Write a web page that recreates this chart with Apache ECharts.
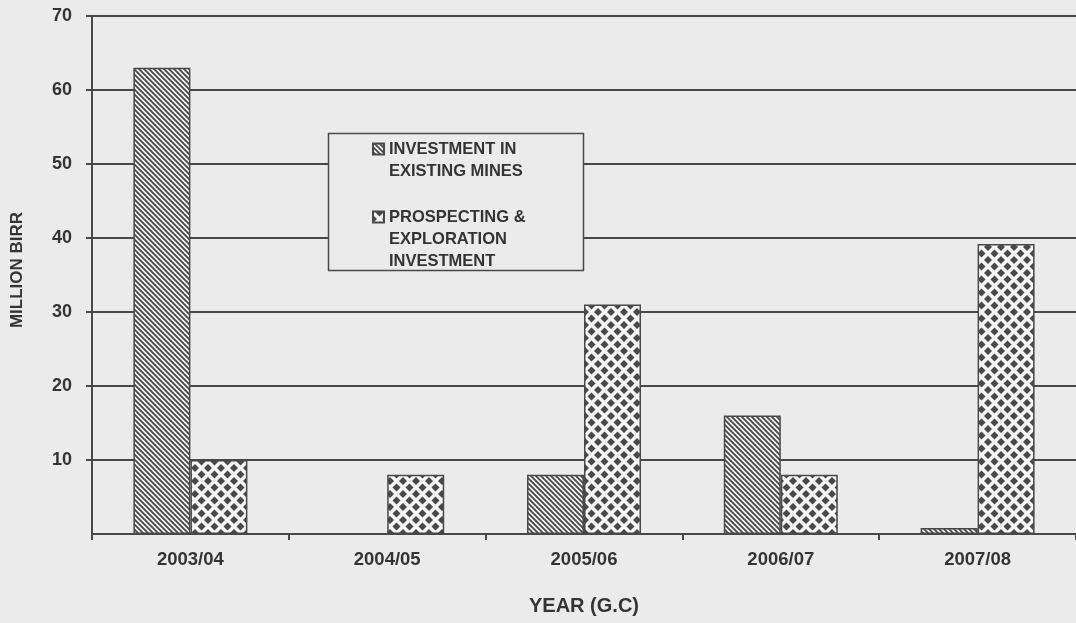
<!DOCTYPE html>
<html>
<head>
<meta charset="utf-8">
<title>Mining investment</title>
<script src="https://cdn.jsdelivr.net/npm/echarts@6/dist/echarts.min.js"></script>
<style>
html, body { margin: 0; padding: 0; background: #ebebeb; }
#chart { width: 1076px; height: 623px; }
</style>
</head>
<body>
<div id="chart"></div>
<script>
// values, million birr
const years = ['2003/04', '2004/05', '2005/06', '2006/07', '2007/08'];
const existingMines = [63, 0, 8, 16, 0.8];
const prospecting = [10, 8, 31, 8, 39.2];
const yTicks = [0, 10, 20, 30, 40, 50, 60, 70];

const seriesNames = ['INVESTMENT IN\nEXISTING MINES', 'PROSPECTING &\nEXPLORATION\nINVESTMENT'];

const ink = '#484848';
const textColor = '#343434';
const paper = '#ebebeb';
const font = '"Liberation Sans", Arial, sans-serif';

// diagonal hatch "\" for the existing mines bars
function hatchPattern() {
  const s = 5;
  const c = document.createElement('canvas');
  c.width = s; c.height = s;
  const ctx = c.getContext('2d');
  ctx.fillStyle = '#f3f3f3';
  ctx.fillRect(0, 0, s, s);
  ctx.strokeStyle = ink;
  ctx.lineWidth = 1.8;
  ctx.beginPath();
  ctx.moveTo(-1, -1); ctx.lineTo(s + 1, s + 1);
  ctx.moveTo(-1, s - 1); ctx.lineTo(1, s + 1);
  ctx.moveTo(s - 1, -1); ctx.lineTo(s + 1, 1);
  ctx.stroke();
  return c;
}

// diamond dots for the prospecting bars
function diamondPattern() {
  const w = 13, h = 13, r = 4;
  const c = document.createElement('canvas');
  c.width = w; c.height = h;
  const ctx = c.getContext('2d');
  ctx.fillStyle = '#f5f5f5';
  ctx.fillRect(0, 0, w, h);
  ctx.fillStyle = ink;
  const centers = [[0, 0], [w, 0], [0, h], [w, h], [w / 2, h / 2]];
  centers.forEach(function (p) {
    ctx.beginPath();
    ctx.moveTo(p[0], p[1] - r);
    ctx.lineTo(p[0] + r, p[1]);
    ctx.lineTo(p[0], p[1] + r);
    ctx.lineTo(p[0] - r, p[1]);
    ctx.closePath();
    ctx.fill();
  });
  return c;
}

// legend icons: a small square placed next to the first text line,
// inside a tall 11x66 icon box (corner points only fix the box size)
function iconAt(top) {
  return 'path://M0,0 L0,0 M0,' + top + ' L11,' + top + ' L11,' + (top + 11) + ' L0,' + (top + 11) + ' Z M11,66 L11,66';
}

const chart = echarts.init(document.getElementById('chart'));

const option = {
  backgroundColor: paper,
  animation: false,
  textStyle: { fontFamily: font },
  grid: { left: 92, right: 0, top: 16, bottom: 89 },
  graphic: [{
    type: 'rect',
    z: 3,
    shape: { x: 328.5, y: 133.5, width: 255, height: 137 },
    style: { fill: paper, stroke: ink, lineWidth: 1.5 }
  }],
  legend: {
    orient: 'vertical',
    left: 372,
    top: 126,
    padding: 0,
    itemWidth: 11,
    itemHeight: 66,
    itemGap: 11,
    z: 5,
    textStyle: { fontFamily: font, fontSize: 16.5, fontWeight: 'bold', color: textColor, lineHeight: 22 },
    data: [
      { name: seriesNames[0], icon: iconAt(16.5) },
      { name: seriesNames[1], icon: iconAt(5.5) }
    ]
  },
  xAxis: {
    type: 'category',
    data: years,
    name: 'YEAR (G.C)',
    nameLocation: 'middle',
    nameGap: 62,
    nameTextStyle: { fontFamily: font, fontSize: 20, fontWeight: 'bold', color: textColor },
    axisLine: { lineStyle: { color: ink, width: 2 } },
    axisTick: { show: true, length: 6, lineStyle: { color: ink, width: 2 } },
    axisLabel: { margin: 16, fontFamily: font, fontSize: 18.5, fontWeight: 'bold', color: textColor }
  },
  yAxis: {
    type: 'value',
    min: yTicks[0],
    max: yTicks[yTicks.length - 1],
    interval: yTicks[1] - yTicks[0],
    name: 'MILLION BIRR',
    nameLocation: 'middle',
    nameRotate: 90,
    nameGap: 66,
    nameTextStyle: { fontFamily: font, fontSize: 17, fontWeight: 'bold', color: textColor, padding: [0, 0, 0, 10] },
    axisLine: { show: true, lineStyle: { color: ink, width: 2 } },
    axisTick: { show: true, length: 6, lineStyle: { color: ink, width: 2 } },
    axisLabel: { showMinLabel: false, margin: 20, fontFamily: font, fontSize: 18, fontWeight: 'bold', color: textColor },
    splitLine: { show: true, lineStyle: { color: ink, width: 2 } }
  },
  series: [
    {
      name: seriesNames[0],
      type: 'bar',
      barWidth: 57,
      barGap: '0%',
      data: existingMines,
      itemStyle: { color: { image: hatchPattern(), repeat: 'repeat' }, borderColor: ink, borderWidth: 1.5 }
    },
    {
      name: seriesNames[1],
      type: 'bar',
      barWidth: 57,
      barGap: '0%',
      data: prospecting,
      itemStyle: { color: { image: diamondPattern(), repeat: 'repeat' }, borderColor: ink, borderWidth: 1.5 }
    }
  ]
};

chart.setOption(option);
</script>
</body>
</html>
